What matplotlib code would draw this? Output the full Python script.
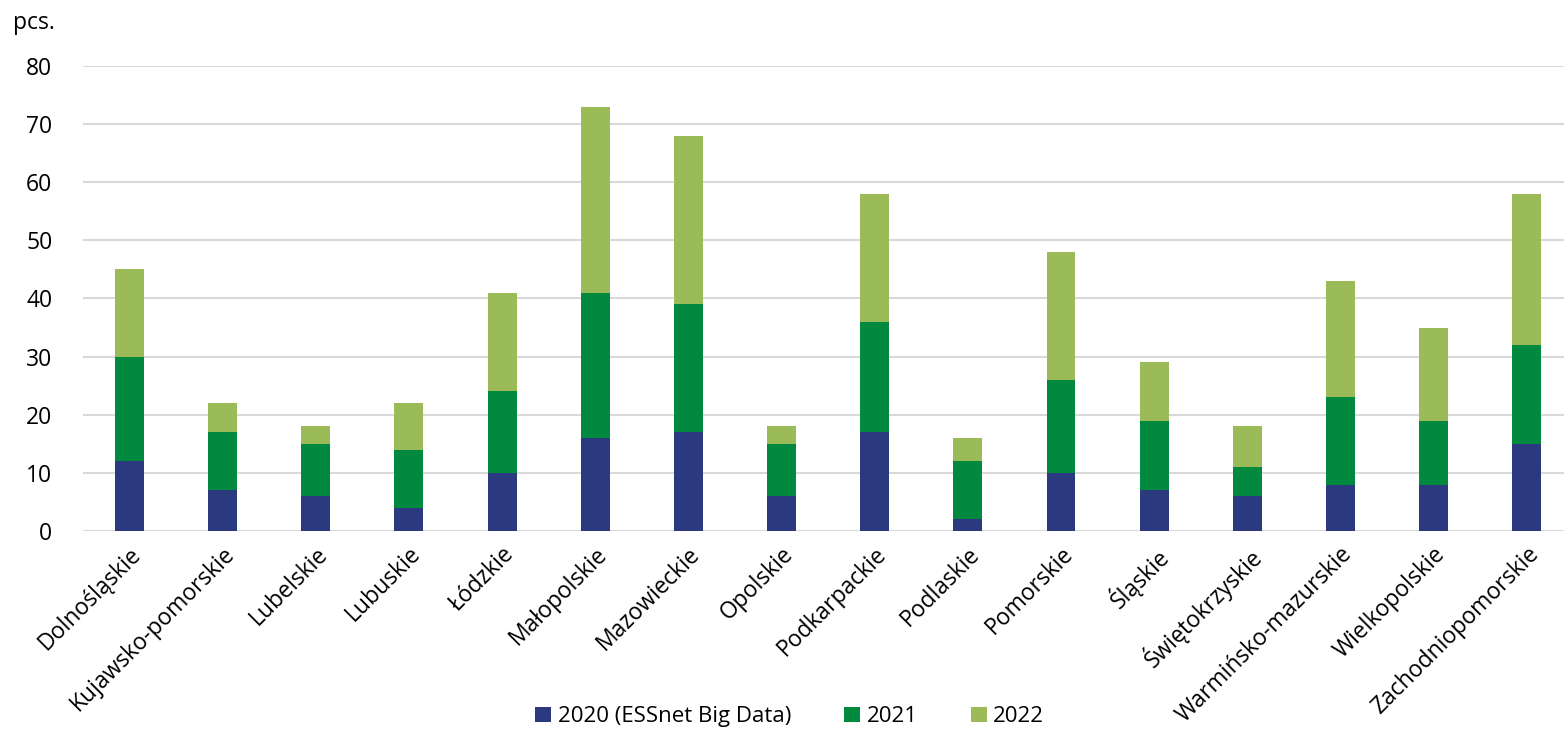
import numpy as np
import matplotlib
matplotlib.use("Agg")
import matplotlib.pyplot as plt

regions = ["Dolnośląskie", "Kujawsko-pomorskie", "Lubelskie", "Lubuskie", "Łódzkie",
           "Małopolskie", "Mazowieckie", "Opolskie", "Podkarpackie", "Podlaskie",
           "Pomorskie", "Śląskie", "Świętokrzyskie", "Warmińsko-mazurskie",
           "Wielkopolskie", "Zachodniopomorskie"]
v2020 = [12, 7, 6, 4, 10, 16, 17, 6, 17, 2, 10, 7, 6, 8, 8, 15]
v2021 = [18, 10, 9, 10, 14, 25, 22, 9, 19, 10, 16, 12, 5, 15, 11, 17]
v2022 = [15, 5, 3, 8, 17, 32, 29, 3, 22, 4, 22, 10, 7, 20, 16, 26]
labels = ["2020 (ESSnet Big Data)", "2021", "2022"]
colors = ["#2B3A7E", "#00893F", "#9BBB59"]

plt.rcParams['font.family'] = ['Open Sans', 'DejaVu Sans']

fig = plt.figure(figsize=(15.64, 7.3), dpi=100)
ax = fig.add_axes([0.053, 0.2726, 0.953, 0.637])

x = np.arange(len(regions))
w = 0.31
b1 = np.array(v2020)
b2 = b1 + np.array(v2021)
ax.bar(x, v2020, w, color=colors[0], label=labels[0], zorder=3)
ax.bar(x, v2021, w, bottom=b1, color=colors[1], label=labels[1], zorder=3)
ax.bar(x, v2022, w, bottom=b2, color=colors[2], label=labels[2], zorder=3)

ax.set_xlim(-0.5, len(regions) - 0.5)
ax.set_ylim(0, 80)
ax.set_yticks(range(0, 81, 10))
ax.yaxis.grid(True, color="#D9D9D9", linewidth=1.5, zorder=0)
for s in ax.spines.values():
    s.set_visible(False)
ax.tick_params(axis='both', length=0, labelsize=16.5, colors="black")
ax.tick_params(axis='y', pad=22)
ax.set_xticks(x)
ax.set_xticklabels(regions, rotation=45, ha='right', rotation_mode='anchor')
ax.tick_params(axis='x', pad=8)

fig.text(0.008, 0.968, "pcs.", fontsize=16.5, ha='left', va='center')

fig.legend(loc='center', bbox_to_anchor=(0.505, 0.018), ncol=3, frameon=False,
           fontsize=16, handlelength=0.7, handleheight=0.7, columnspacing=2.4,
           handletextpad=0.3)

fig.savefig("out.png", dpi=100)
